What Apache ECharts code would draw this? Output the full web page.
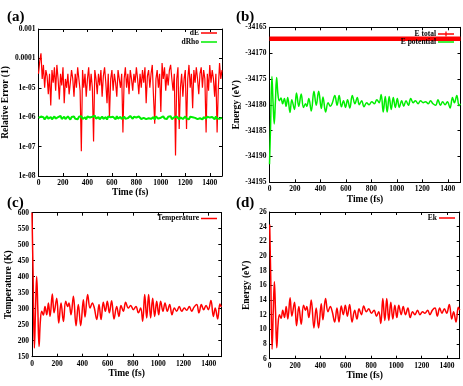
<!DOCTYPE html>
<html>
<head>
<meta charset="utf-8">
<script src="https://cdn.jsdelivr.net/npm/echarts@6/dist/echarts.min.js"></script>
<style>
html, body { margin: 0; padding: 0; background: #fff; }
#main { width: 463px; height: 386px; }
</style>
</head>
<body>
<div id="main"></div>
<script>
// ---- data ----
// (a) relative error, sampled every 10 fs
var dE = [
	3e-5, 8e-5, 1.5e-4, 2e-5, 6e-5, 1e-5, 4e-5, 2.5e-5, 6e-6, 3e-5,
	2.5e-6, 4e-5, 1.5e-5, 5e-5, 8e-6, 6e-5, 2e-5, 4e-6, 3e-5, 1.2e-5,
	5e-5, 3e-6, 2e-5, 1e-5, 3e-5, 6e-6, 1.5e-5, 4e-5, 2e-5, 5e-6,
	3e-5, 1e-5, 5e-5, 2e-5, 8e-6, 7e-8, 4e-5, 1e-5, 3e-5, 5e-6,
	2e-5, 5e-5, 8e-6, 3e-5, 1e-5, 1.5e-7, 4e-5, 2e-5, 6e-6, 3e-5,
	1.2e-5, 4e-5, 5e-6, 2.5e-5, 5e-5, 1.5e-5, 3e-6, 3e-5, 1e-6, 2e-5,
	4e-5, 8e-6, 3e-5, 1.5e-5, 5e-6, 4e-5, 2e-5, 1e-5, 3e-5, 3e-7,
	2e-5, 5e-5, 1e-5, 3e-5, 6e-6, 4e-5, 2e-5, 8e-6, 3e-5, 1.5e-5,
	5e-5, 2e-5, 6e-6, 3e-5, 1e-5, 4e-5, 1.5e-5, 5e-5, 3e-6, 2.5e-5,
	4e-5, 1e-5, 3e-5, 6e-5, 5e-6, 6e-7, 2e-5, 4e-5, 1e-5, 3e-5,
	1.5e-6, 7e-5, 2e-5, 5e-5, 8e-6, 3e-5, 1.2e-5, 4e-5, 6e-5, 2e-5,
	8e-6, 3e-5, 5e-8, 2e-5, 5e-5, 4e-7, 1e-5, 3e-5, 5e-6, 2e-5,
	4e-5, 4e-7, 2e-5, 6e-5, 1e-5, 3e-5, 2e-6, 4e-5, 1.5e-5, 5e-5,
	2e-5, 6e-6, 3e-5, 5e-5, 1e-5, 4e-5, 2e-5, 3e-7, 3e-5, 8e-6,
	6e-5, 1.5e-5, 4e-5, 2e-5, 5e-6, 3e-5, 3e-7, 1e-5, 7e-5, 2e-5,
	4e-5
];
var dRho = [
	9.5e-7, 8.6e-7, 1.05e-6, 9e-7, 1.0e-6, 8.4e-7, 9.8e-7, 1.08e-6, 8.8e-7, 9.6e-7,
	1.02e-6, 8.5e-7, 9.4e-7, 1.06e-6, 9e-7, 8.2e-7, 1.0e-6, 9.3e-7, 1.1e-6, 8.7e-7,
	9.7e-7, 1.04e-6, 8.6e-7, 9.2e-7, 1.07e-6, 9.5e-7, 8.3e-7, 1.01e-6, 9e-7, 1.05e-6,
	8.8e-7, 9.9e-7, 8.5e-7, 1.03e-6, 9.4e-7, 1.09e-6, 8.7e-7, 9.6e-7, 1.0e-6, 8.4e-7,
	1.06e-6, 9.1e-7, 9.8e-7, 8.6e-7, 1.04e-6, 9.3e-7, 1.12e-6, 8.9e-7, 9.5e-7, 1.01e-6,
	8.5e-7, 9.7e-7, 1.05e-6, 8.8e-7, 9.4e-7, 1.0e-6, 8.3e-7, 1.07e-6, 9.2e-7, 9.9e-7,
	8.7e-7, 1.03e-6, 9.5e-7, 8.4e-7, 1.08e-6, 9e-7, 9.7e-7, 1.02e-6, 8.6e-7, 9.4e-7,
	1.05e-6, 8.9e-7, 1.0e-6, 9.3e-7, 8.5e-7, 1.1e-6, 9.6e-7, 8.8e-7, 1.03e-6, 9.1e-7,
	9.8e-7, 8.4e-7, 1.06e-6, 9.4e-7, 8.7e-7, 1.01e-6, 9.5e-7, 1.08e-6, 8.6e-7, 9.9e-7,
	9.2e-7, 1.04e-6, 8.8e-7, 9.7e-7, 1.0e-6, 8.3e-7, 1.06e-6, 9.4e-7, 8.9e-7, 1.02e-6,
	9.6e-7, 8.5e-7, 1.07e-6, 9.1e-7, 9.8e-7, 8.7e-7, 1.03e-6, 9.5e-7, 1.09e-6, 8.6e-7,
	9.3e-7, 1.0e-6, 8.8e-7, 1.05e-6, 9.4e-7, 8.4e-7, 9.9e-7, 1.02e-6, 8.7e-7, 9.6e-7,
	1.06e-6, 9e-7, 9.7e-7, 8.5e-7, 1.04e-6, 9.3e-7, 1.0e-6, 8.8e-7, 9.5e-7, 1.08e-6,
	8.6e-7, 9.8e-7, 9.2e-7, 1.03e-6, 8.4e-7, 1.0e-6, 9.6e-7, 8.9e-7, 1.05e-6, 9.1e-7,
	9.7e-7, 8.7e-7, 1.02e-6, 9.4e-7, 8.5e-7, 1.06e-6, 9e-7, 9.8e-7, 8.8e-7, 1.01e-6,
	9.5e-7
];
var timeErr = [];
for (var i = 0; i < dE.length; i++) timeErr.push(i * 10);

// (b), (c), (d) sampled at the turning points of the oscillation
var timeMd = [0, 8, 19, 28, 37, 46, 56, 66, 77, 90,
	103, 117, 130, 143, 161, 175, 196, 212, 230, 249,
	267, 283, 293, 309, 328, 349, 367, 386, 407, 420,
	441, 460, 478, 494, 513, 531, 547, 565, 581, 597,
	613, 631, 650, 671, 689, 705, 724, 742, 763, 782,
	803, 824, 843, 861, 877, 893, 909, 924, 940, 956,
	972, 988, 1004, 1019, 1038, 1054, 1072, 1091, 1109, 1128,
	1146, 1167, 1186, 1207, 1225, 1247, 1265, 1284, 1305, 1323,
	1342, 1360, 1379, 1397, 1418, 1437, 1452, 1471, 1489, 1500];
var tempK = [600, 420, 177, 300, 401, 300, 182, 260, 292, 280,
	307, 281, 318, 276, 346, 287, 333, 255, 318, 260,
	323, 307, 318, 281, 339, 247, 313, 247, 328, 274,
	344, 302, 318, 302, 266, 313, 266, 320, 292, 323,
	287, 325, 268, 307, 276, 310, 292, 320, 302, 310,
	297, 307, 287, 302, 261, 344, 271, 344, 271, 333,
	276, 323, 281, 323, 292, 318, 292, 313, 281, 302,
	292, 307, 292, 302, 295, 307, 292, 305, 313, 287,
	313, 297, 310, 297, 326, 276, 302, 268, 315, 305];
var eKin = [24.3, 17.3, 7.3, 12.4, 16.5, 12.4, 7.5, 10.7, 12.0, 11.5,
	12.6, 11.6, 13.1, 11.4, 14.3, 11.8, 13.7, 10.5, 13.1, 10.7,
	13.3, 12.6, 13.1, 11.6, 14.0, 10.2, 12.9, 10.2, 13.5, 11.3,
	14.2, 12.4, 13.1, 12.4, 11.0, 12.9, 11.0, 13.2, 12.0, 13.3,
	11.8, 13.4, 11.0, 12.6, 11.4, 12.8, 12.0, 13.2, 12.4, 12.8,
	12.2, 12.6, 11.8, 12.4, 10.8, 14.2, 11.2, 14.2, 11.2, 13.7,
	11.4, 13.3, 11.6, 13.3, 12.0, 13.1, 12.0, 12.9, 11.6, 12.4,
	12.0, 12.6, 12.0, 12.4, 12.2, 12.6, 12.0, 12.6, 12.9, 11.8,
	12.9, 12.2, 12.8, 12.2, 13.4, 11.4, 12.4, 11.0, 13.0, 12.6];
var ePot = [-34191.5, -34184.5, -34174.5, -34179.6, -34183.7, -34179.6, -34174.7, -34177.9, -34179.2, -34178.7,
	-34179.8, -34178.8, -34180.3, -34178.6, -34181.5, -34179.0, -34180.9, -34177.7, -34180.3, -34177.9,
	-34180.5, -34179.8, -34180.3, -34178.8, -34181.2, -34177.4, -34180.1, -34177.4, -34180.7, -34178.5,
	-34181.4, -34179.6, -34180.3, -34179.6, -34178.2, -34180.1, -34178.2, -34180.4, -34179.2, -34180.5,
	-34179.0, -34180.6, -34178.2, -34179.8, -34178.6, -34180.0, -34179.2, -34180.4, -34179.6, -34180.0,
	-34179.4, -34179.8, -34179.0, -34179.6, -34178.0, -34181.4, -34178.4, -34181.4, -34178.4, -34180.9,
	-34178.6, -34180.5, -34178.8, -34180.5, -34179.2, -34180.3, -34179.2, -34180.1, -34178.8, -34179.6,
	-34179.2, -34179.8, -34179.2, -34179.6, -34179.4, -34179.8, -34179.2, -34179.8, -34180.1, -34179.0,
	-34180.1, -34179.4, -34180.0, -34179.4, -34180.6, -34178.6, -34179.6, -34178.2, -34180.2, -34179.8];
var timeTot = [0, 1500];
var eTotal = [-34167.2, -34167.2];

var errTickLabels = ['1e-08', '1e-07', '1e-06', '1e-05', '0.0001', '0.001'];
var panelLabels = ['(a)', '(b)', '(c)', '(d)'];

// ---- layout ----
var FONT = 'Liberation Serif';
var grids = [
	{ left: 33, top: 29, width: 189, height: 147 },
	{ left: 269.5, top: 27.3, width: 191, height: 155 },
	{ left: 32, top: 212.7, width: 189.3, height: 144 },
	{ left: 269.7, top: 212, width: 190, height: 146.7 }
];

function pairs(xs, ys) {
	return xs.map(function (x, i) { return [x, ys[i]]; });
}
function plain(v) { return String(v); }

var xAxes = [], yAxes = [];
function addAxes(gi, yCfg, xNameGap) {
	var tick = { inside: true, length: 3, lineStyle: { color: '#000', width: 1 } };
	var line = { onZero: false, lineStyle: { color: '#000', width: 1 } };
	var label = { fontFamily: FONT, fontWeight: 'bold', fontSize: 7.5, color: '#000', margin: 3 };
	var nameStyle = { fontFamily: FONT, fontWeight: 'bold', fontSize: 9.5, color: '#000' };
	[0, 1].forEach(function (k) {
		xAxes.push({
			type: 'value', gridIndex: gi, position: k ? 'top' : 'bottom',
			min: 0, max: 1500, interval: 200,
			name: k ? '' : 'Time (fs)', nameLocation: 'middle', nameGap: xNameGap, nameTextStyle: nameStyle,
			axisLine: line, axisTick: tick, splitLine: { show: false },
			axisLabel: Object.assign({ show: !k, showMaxLabel: false, formatter: plain }, label)
		});
		var y = {
			type: yCfg.type || 'value', gridIndex: gi, position: k ? 'right' : 'left',
			min: yCfg.min, max: yCfg.max,
			name: k ? '' : yCfg.name, nameLocation: 'middle', nameGap: yCfg.nameGap, nameTextStyle: nameStyle,
			axisLine: line, axisTick: tick, splitLine: { show: false },
			axisLabel: Object.assign({ show: !k, formatter: yCfg.formatter || plain }, label)
		};
		if (yCfg.interval) y.interval = yCfg.interval;
		if (yCfg.type === 'log') y.logBase = 10;
		yAxes.push(y);
	});
}

addAxes(0, { type: 'log', min: 1e-8, max: 1e-3, name: 'Relative Error (1)', nameGap: 21,
	formatter: function (v) { return errTickLabels[Math.round(Math.log10(v)) + 8]; } }, 10);
addAxes(1, { min: -34195, max: -34165, interval: 5, name: 'Energy (eV)', nameGap: 26 }, 6);
addAxes(2, { min: 150, max: 600, interval: 50, name: 'Temperature (K)', nameGap: 14 }, 8);
addAxes(3, { min: 6, max: 26, interval: 2, name: 'Energy (eV)', nameGap: 18 }, 8.5);

function lineSeries(name, gi, data, color, width, smooth) {
	return {
		name: name, type: 'line', xAxisIndex: gi * 2, yAxisIndex: gi * 2,
		data: data, symbol: 'none', smooth: smooth || false,
		lineStyle: { color: color, width: width }, itemStyle: { color: color }
	};
}

var RED = '#ff0000', GREEN = '#00ee00';
var series = [
	lineSeries('dE', 0, pairs(timeErr, dE), RED, 1.2),
	lineSeries('dRho', 0, pairs(timeErr, dRho), GREEN, 2),
	lineSeries('E total', 1, pairs(timeTot, eTotal), RED, 4.5),
	lineSeries('E potential', 1, pairs(timeMd, ePot), GREEN, 1.5, 0.4),
	lineSeries('Temperature', 2, pairs(timeMd, tempK), RED, 1.5, 0.4),
	lineSeries('Ek', 3, pairs(timeMd, eKin), RED, 1.5, 0.4)
];

function legend(items, top, right, icon, iconH) {
	return {
		data: items, top: top, right: right, orient: 'vertical', align: 'right',
		icon: icon || 'rect', itemWidth: 16, itemHeight: iconH || 1.5, itemGap: 0, padding: 0,
		textStyle: { fontFamily: FONT, fontWeight: 'bold', fontSize: 7.5, color: '#000', lineHeight: 9, padding: [0, -3, 0, 0] }
	};
}

var titles = panelLabels.map(function (t, i) {
	return {
		text: t, left: i % 2 ? 231 : 2, top: i < 2 ? 5 : 191,
		textStyle: { fontFamily: FONT, fontWeight: 'bold', fontSize: 15, color: '#000' }
	};
});

var myChart = echarts.init(document.getElementById('main'));
myChart.setOption({
	animation: false,
	backgroundColor: '#fff',
	title: titles,
	grid: grids,
	xAxis: xAxes,
	yAxis: yAxes,
	legend: [
		legend(['dE', 'dRho'], 28.5, 246),
		legend(['E total'], 29.5, 9, 'path://M0,3.5h30v2.4h-30z M13.8,0h2.4v9.4h-2.4z', 7),
		legend(['E potential'], 37.5, 9),
		legend(['Temperature'], 214, 246),
		legend(['Ek'], 213.5, 8)
	],
	series: series
});
</script>
</body>
</html>
